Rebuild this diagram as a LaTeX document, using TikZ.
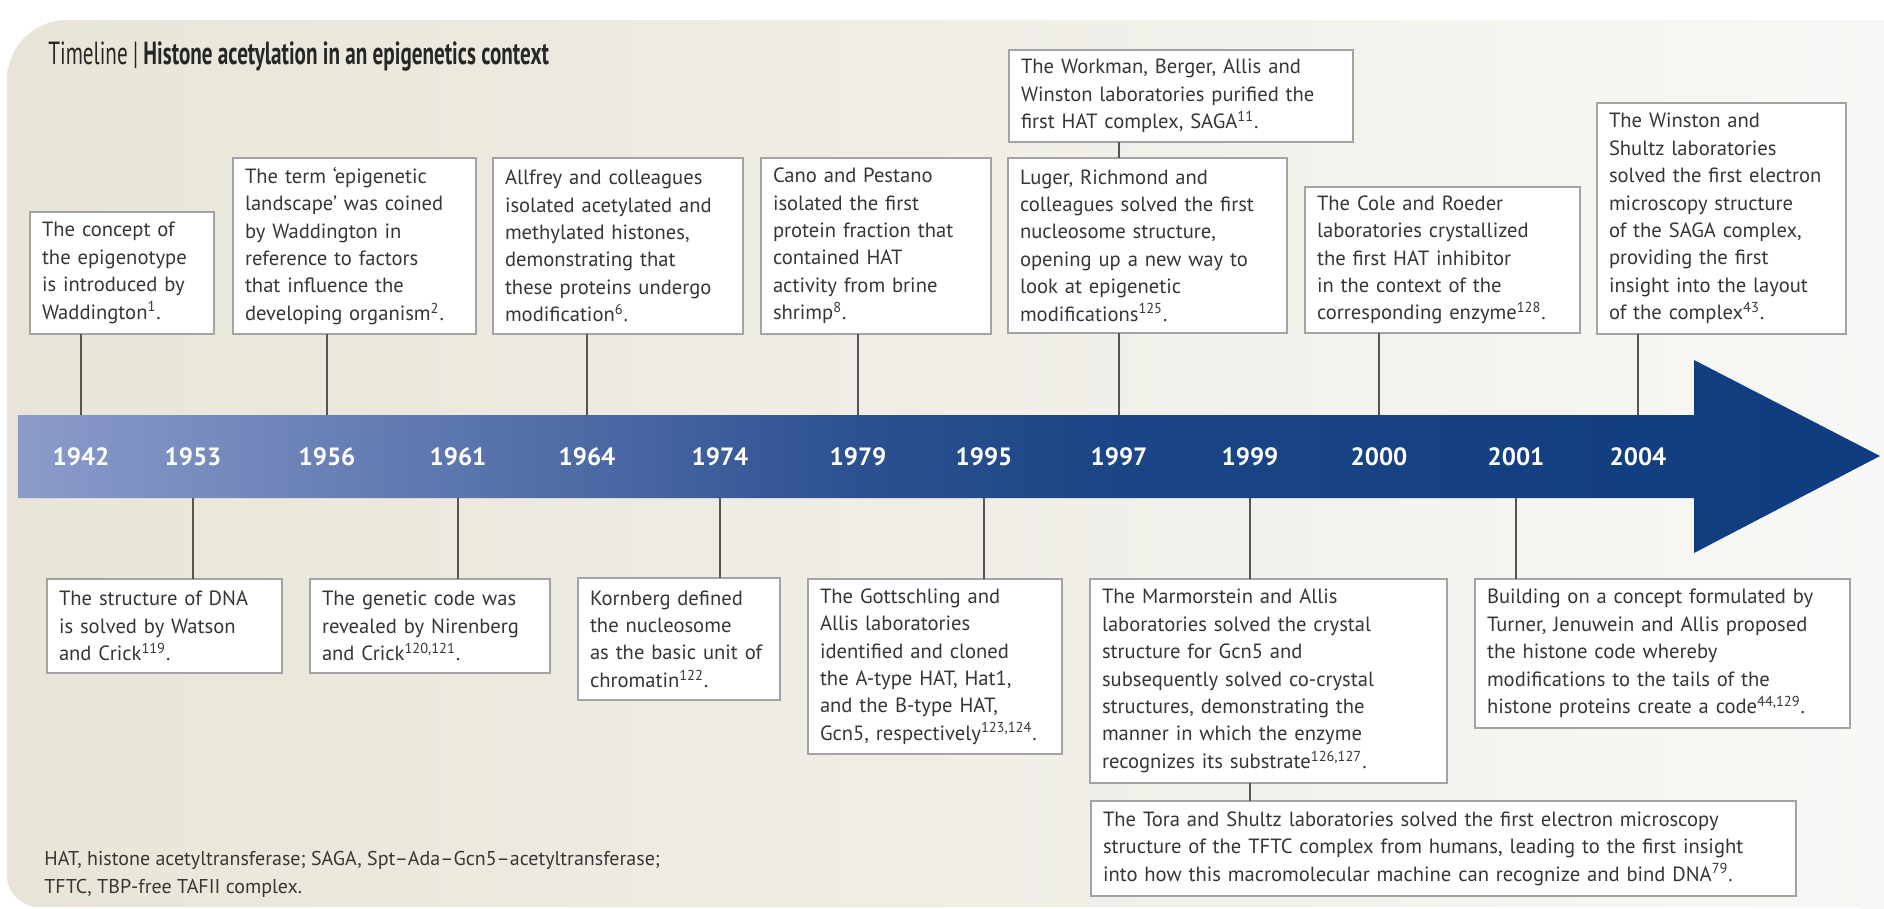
\documentclass[tikz,border=0pt]{standalone}
\usepackage{fontspec}
\setmainfont{PT Sans}
\newfontfamily\titlefont[FakeStretch=0.66]{PT Sans}
\usetikzlibrary{calc}
\definecolor{bgL}{HTML}{E8E5D8}
\definecolor{bgM}{HTML}{F0EEE7}
\definecolor{bgR}{HTML}{F8F8F6}
\definecolor{aA}{HTML}{8D9DCC}
\definecolor{aB}{HTML}{4D6AA5}
\definecolor{aC}{HTML}{2C5090}
\definecolor{aD}{HTML}{1B4586}
\definecolor{aE}{HTML}{0E3C7E}
\definecolor{boxline}{HTML}{A3A3A3}
\definecolor{connc}{HTML}{555555}
\definecolor{txt}{HTML}{363636}
\tikzset{
  evbox/.style n args={3}{draw=boxline, fill=white, line width=0.7pt, anchor=north west,
    inner xsep=6pt, inner ysep=0pt, outer sep=0pt, align=left, text=txt,
    font=\fontsize{10.3pt}{13.7pt}\selectfont,
    minimum width=#1pt, minimum height=#2pt, text width=#3pt},
  yearlbl/.style={text=white, font=\bfseries\fontsize{12.5pt}{14pt}\selectfont, inner sep=0pt},
  conn/.style={draw=connc, line width=0.75pt},
}
\begin{document}
\begin{tikzpicture}[x=0.5pt,y=-0.5pt]
\useasboundingbox (0,0) rectangle (1884,909);
\fill[white] (0,0) rectangle (1884,909);
% background panel
\begin{scope}
\clip (1884,909) -- (1884,20) [rounded corners=30pt] -- (7,20) [rounded corners=16pt] -- (7,907) -- (1884,907) -- cycle;
\shade[left color=bgL, right color=bgM] (0,0) rectangle (1000,909);
\shade[left color=bgM, right color=bgR] (1000,0) rectangle (1884,909);
\end{scope}
% title
\node[anchor=west, inner sep=0pt, text=black!85, font=\titlefont\fontsize{16pt}{19pt}\selectfont] (title) at (48,57)
  {Timeline\,|\,\textbf{Histone acetylation in an epigenetics context}};
% arrow
\begin{scope}
\clip (18,415) -- (1694,415) -- (1694,360) -- (1880,456) -- (1694,553) -- (1694,498) -- (18,498) -- cycle;
\shade[left color=aA, right color=aB] (0,350) rectangle (588,560);
\shade[left color=aB, right color=aC] (587,350) rectangle (861,560);
\shade[left color=aC, right color=aD] (860,350) rectangle (1121,560);
\shade[left color=aD, right color=aE] (1120,350) rectangle (1884,560);
\end{scope}
\coordinate (atop) at (0,415);
\coordinate (abot) at (0,498);
% years
\foreach \yr/\xx in {1942/81,1953/193,1956/327,1961/458,1964/587,1974/720,1979/858,1995/984,1997/1119,1999/1250,2000/1379,2001/1516,2004/1638}
  \node[yearlbl] (y\yr) at (\xx,457) {\yr};
% top boxes
\node[evbox={92}{61}{80}] (b1942) at (30,212)
 {\mbox{The concept of}\\\mbox{the epigenotype}\\\mbox{is introduced by}\\\mbox{Waddington\textsuperscript{1}.}};
\node[evbox={121.5}{88}{109.5}] (b1956) at (233,158)
 {\mbox{The term ‘epigenetic}\\\mbox{landscape’ was coined}\\\mbox{by Waddington in}\\\mbox{reference to factors}\\\mbox{that influence the}\\\mbox{developing organism\textsuperscript{2}.}};
\node[evbox={125}{88}{113}] (b1964) at (493,158)
 {\mbox{Allfrey and colleagues}\\\mbox{isolated acetylated and}\\\mbox{methylated histones,}\\\mbox{demonstrating that}\\\mbox{these proteins undergo}\\\mbox{modification\textsuperscript{6}.}};
\node[evbox={115}{88}{103}] (b1979) at (761,158)
 {\mbox{Cano and Pestano}\\\mbox{isolated the first}\\\mbox{protein fraction that}\\\mbox{contained HAT}\\\mbox{activity from brine}\\\mbox{shrimp\textsuperscript{8}.}};
\node[evbox={172}{46}{160}] (b1997a) at (1009,50)
 {\mbox{The Workman, Berger, Allis and}\\\mbox{Winston laboratories purified the}\\\mbox{first HAT complex, SAGA\textsuperscript{11}.}};
\node[evbox={139.5}{87.5}{127.5}] (b1997) at (1008,158)
 {\mbox{Luger, Richmond and}\\\mbox{colleagues solved the first}\\\mbox{nucleosome structure,}\\\mbox{opening up a new way to}\\\mbox{look at epigenetic}\\\mbox{modifications\textsuperscript{125}.}};
\node[evbox={137.5}{73}{125.5}] (b2000) at (1305,187)
 {\mbox{The Cole and Roeder}\\\mbox{laboratories crystallized}\\\mbox{the first HAT inhibitor}\\\mbox{in the context of the}\\\mbox{corresponding enzyme\textsuperscript{128}.}};
\node[evbox={124.5}{115.5}{112.5}] (b2004) at (1597,103)
 {\mbox{The Winston and}\\\mbox{Shultz laboratories}\\\mbox{solved the first electron}\\\mbox{microscopy structure}\\\mbox{of the SAGA complex,}\\\mbox{providing the first}\\\mbox{insight into the layout}\\\mbox{of the complex\textsuperscript{43}.}};
% bottom boxes
\node[evbox={117.5}{47}{105.5}] (b1953) at (47,579)
 {\mbox{The structure of DNA}\\\mbox{is solved by Watson}\\\mbox{and Crick\textsuperscript{119}.}};
\node[evbox={120}{47}{108}] (b1961) at (310,579)
 {\mbox{The genetic code was}\\\mbox{revealed by Nirenberg}\\\mbox{and Crick\textsuperscript{120,121}.}};
\node[evbox={101}{61}{89}] (b1974) at (578,578)
 {\mbox{Kornberg defined}\\\mbox{the nucleosome}\\\mbox{as the basic unit of}\\\mbox{chromatin\textsuperscript{122}.}};
\node[evbox={127}{87.5}{115}] (b1995) at (808,579)
 {\mbox{The Gottschling and}\\\mbox{Allis laboratories}\\\mbox{identified and cloned}\\\mbox{the A-type HAT, Hat1,}\\\mbox{and the B-type HAT,}\\\mbox{Gcn5, respectively\textsuperscript{123,124}.}};
\node[evbox={178.5}{102}{166.5}] (b1999) at (1090,579)
 {\mbox{The Marmorstein and Allis}\\\mbox{laboratories solved the crystal}\\\mbox{structure for Gcn5 and}\\\mbox{subsequently solved co-crystal}\\\mbox{structures, demonstrating the}\\\mbox{manner in which the enzyme}\\\mbox{recognizes its substrate\textsuperscript{126,127}.}};
\node[evbox={187.5}{74.5}{175.5}] (b2001) at (1475,579)
 {\mbox{Building on a concept formulated by}\\\mbox{Turner, Jenuwein and Allis proposed}\\\mbox{the histone code whereby}\\\mbox{modifications to the tails of the}\\\mbox{histone proteins create a code\textsuperscript{44,129}.}};
\node[evbox={352.5}{47.5}{340.5}] (tftc) at (1091,801)
 {\mbox{The Tora and Shultz laboratories solved the first electron microscopy}\\\mbox{structure of the TFTC complex from humans, leading to the first insight}\\\mbox{into how this macromolecular machine can recognize and bind DNA\textsuperscript{79}.}};
% footnote
\node[anchor=west, inner sep=0pt, align=left, text=txt, font=\fontsize{10pt}{14pt}\selectfont] (foot) at (44,874)
 {HAT, histone acetyltransferase; SAGA, Spt–Ada–Gcn5–acetyltransferase;\\TFTC, TBP-free TAFII complex.};
% connectors
\foreach \yr in {1942,1956,1964,1979,1997,2000,2004}
  \draw[conn] (b\yr.south -| y\yr) -- (y\yr |- atop);
\foreach \yr in {1953,1961,1974,1995,1999,2001}
  \draw[conn] (y\yr |- abot) -- (b\yr.north -| y\yr);
\draw[conn] (b1997a.south -| y1997) -- (b1997.north -| y1997);
\draw[conn] (b1999.south -| y1999) -- (tftc.north -| y1999);
\end{tikzpicture}
\end{document}
